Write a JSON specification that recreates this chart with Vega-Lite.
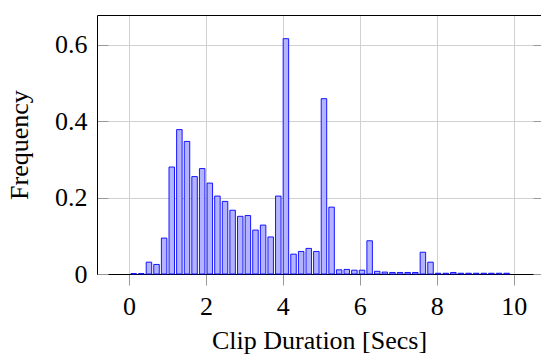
{
  "$schema": "https://vega.github.io/schema/vega-lite/v6.json",
  "width": 444,
  "height": 259,
  "autosize": {"type": "none"},
  "padding": {"left": 97, "top": 15, "right": 0, "bottom": 81},
  "config": {
    "view": {"stroke": null},
    "font": "Liberation Serif",
    "axis": {
      "labelFont": "Liberation Serif",
      "titleFont": "Liberation Serif",
      "labelFontSize": 26,
      "titleFontSize": 26,
      "labelColor": "#000",
      "titleColor": "#000",
      "titleFontWeight": "normal",
      "domainColor": "#000",
      "domainWidth": 1,
      "gridColor": "#d0d0d0",
      "gridWidth": 1,
      "tickColor": "#999999",
      "tickWidth": 1
    }
  },
  "data": {
    "values": [
      {"duration": 0.124, "frequency": 0.001},
      {"duration": 0.322, "frequency": 0.001},
      {"duration": 0.520, "frequency": 0.031},
      {"duration": 0.717, "frequency": 0.025},
      {"duration": 0.915, "frequency": 0.094},
      {"duration": 1.113, "frequency": 0.280},
      {"duration": 1.311, "frequency": 0.378},
      {"duration": 1.509, "frequency": 0.347},
      {"duration": 1.706, "frequency": 0.255},
      {"duration": 1.904, "frequency": 0.276},
      {"duration": 2.102, "frequency": 0.238},
      {"duration": 2.300, "frequency": 0.204},
      {"duration": 2.498, "frequency": 0.190},
      {"duration": 2.695, "frequency": 0.167},
      {"duration": 2.893, "frequency": 0.151},
      {"duration": 3.091, "frequency": 0.153},
      {"duration": 3.289, "frequency": 0.115},
      {"duration": 3.487, "frequency": 0.128},
      {"duration": 3.684, "frequency": 0.097},
      {"duration": 3.882, "frequency": 0.204},
      {"duration": 4.080, "frequency": 0.616},
      {"duration": 4.278, "frequency": 0.052},
      {"duration": 4.476, "frequency": 0.059},
      {"duration": 4.673, "frequency": 0.067},
      {"duration": 4.871, "frequency": 0.059},
      {"duration": 5.069, "frequency": 0.459},
      {"duration": 5.267, "frequency": 0.175},
      {"duration": 5.465, "frequency": 0.011},
      {"duration": 5.662, "frequency": 0.012},
      {"duration": 5.860, "frequency": 0.010},
      {"duration": 6.058, "frequency": 0.010},
      {"duration": 6.256, "frequency": 0.087},
      {"duration": 6.454, "frequency": 0.007},
      {"duration": 6.651, "frequency": 0.005},
      {"duration": 6.849, "frequency": 0.004},
      {"duration": 7.047, "frequency": 0.004},
      {"duration": 7.245, "frequency": 0.004},
      {"duration": 7.443, "frequency": 0.004},
      {"duration": 7.640, "frequency": 0.057},
      {"duration": 7.838, "frequency": 0.031},
      {"duration": 8.036, "frequency": 0.002},
      {"duration": 8.234, "frequency": 0.002},
      {"duration": 8.432, "frequency": 0.004},
      {"duration": 8.629, "frequency": 0.002},
      {"duration": 8.827, "frequency": 0.002},
      {"duration": 9.025, "frequency": 0.002},
      {"duration": 9.223, "frequency": 0.002},
      {"duration": 9.421, "frequency": 0.002},
      {"duration": 9.618, "frequency": 0.002},
      {"duration": 9.816, "frequency": 0.002}
    ]
  },
  "layer": [
    {
      "mark": {"type": "bar", "size": 5.5, "fill": "#b3b3ff", "stroke": "#0000ff", "strokeWidth": 0.9},
      "encoding": {
        "x": {
          "field": "duration", "type": "quantitative",
          "scale": {"domain": [-0.83, 10.71], "nice": false, "zero": false, "padding": 0},
          "axis": {"orient": "bottom", "values": [0, 2, 4, 6, 8, 10], "tickSize": 11, "labelPadding": 8, "title": "Clip Duration [Secs]", "titlePadding": 8, "grid": true}
        },
        "y": {
          "field": "frequency", "type": "quantitative",
          "scale": {"domain": [0, 0.678], "nice": false, "padding": 0},
          "axis": {"orient": "left", "values": [0, 0.2, 0.4, 0.6], "format": "~g", "tickSize": -11, "labelPadding": 21, "title": "Frequency", "titlePadding": 22, "grid": true}
        }
      }
    },
    {
      "mark": {"type": "point", "opacity": 0},
      "encoding": {
        "x": {
          "field": "duration", "type": "quantitative",
          "axis": {"orient": "top", "labels": false, "ticks": false, "grid": false, "title": null}
        },
        "y": {
          "field": "frequency", "type": "quantitative",
          "axis": {"orient": "right", "values": [0, 0.2, 0.4, 0.6], "labels": false, "domain": false, "tickSize": -8, "grid": false, "title": null}
        }
      }
    }
  ],
  "resolve": {"axis": {"x": "independent", "y": "independent"}}
}
